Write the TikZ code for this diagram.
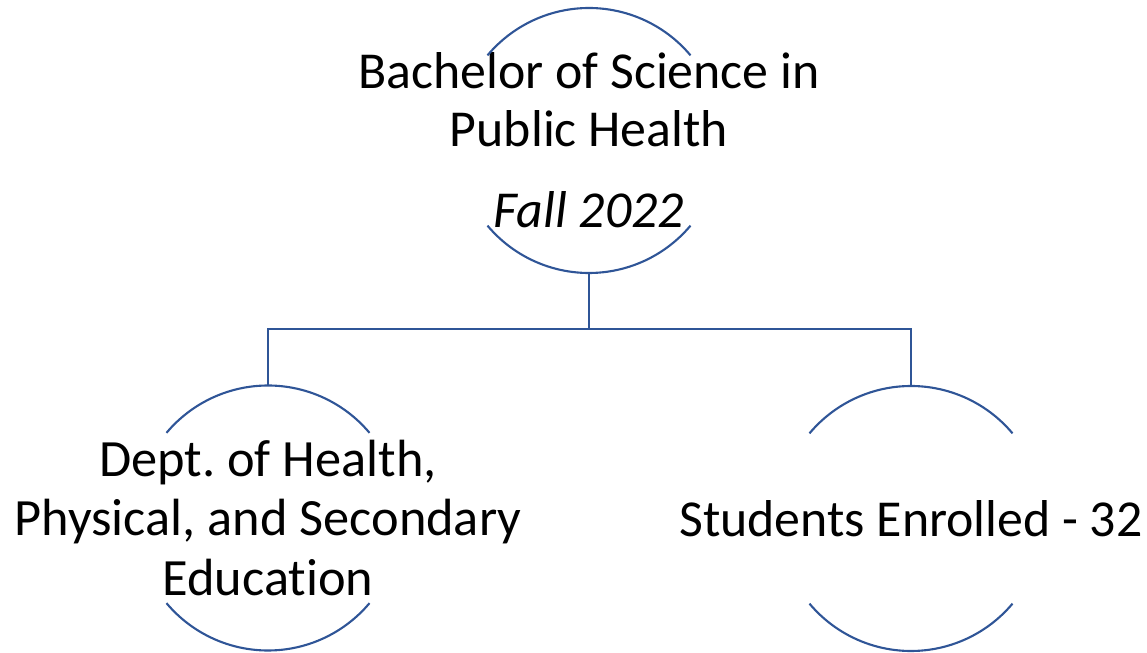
\documentclass[tikz,border=0pt]{standalone}
\usepackage{fontspec}
\setmainfont{Carlito}[Ligatures=NoCommon]
\usetikzlibrary{positioning}
\definecolor{arcblue}{RGB}{47,85,151}
\tikzset{
    ring/.style = {circle, minimum size=5.3cm, inner sep=0pt, outer sep=0pt},
    rim/.style = {draw=arcblue, line width=1.2pt},
    edgen/.style = {draw=arcblue, line width=1.2pt},
    caption/.style = {align=center, inner sep=0pt, font=\fontsize{29.5}{33}\selectfont},
    captions/.style = {align=center, inner sep=0pt, font=\fontsize{29.8}{33.6}\selectfont}
}
\begin{document}
\begin{tikzpicture}
\useasboundingbox (0,0) rectangle (22.94,-13.06);
%
\node[ring] at (11.78,-2.81) (top) {};
\node[ring] at (5.36,-10.36) (dept) {};
\node[ring] at (18.22,-10.37) (enrol) {};
%
\node[caption] at (top) (toptext) {Bachelor of Science in\\Public Health\\[0.45em]\textit{Fall 2022}};
\node[captions] at (dept) (depttext) {Dept.\ of Health,\\Physical, and Secondary\\Education};
\node[caption] at (enrol) (enroltext) {Students Enrolled - 32};
%
\foreach \n in {top,dept,enrol} {
  \draw[rim] (\n.40) arc[start angle=40,end angle=140,radius=2.65];
  \draw[rim] (\n.220) arc[start angle=220,end angle=320,radius=2.65];
}
%
\coordinate (fork) at (11.78,-6.58);
\draw[edgen] (top.south) -- (fork);
\draw[edgen] (fork) -| (dept.north);
\draw[edgen] (fork) -| (enrol.north);

\end{tikzpicture}
\end{document}
